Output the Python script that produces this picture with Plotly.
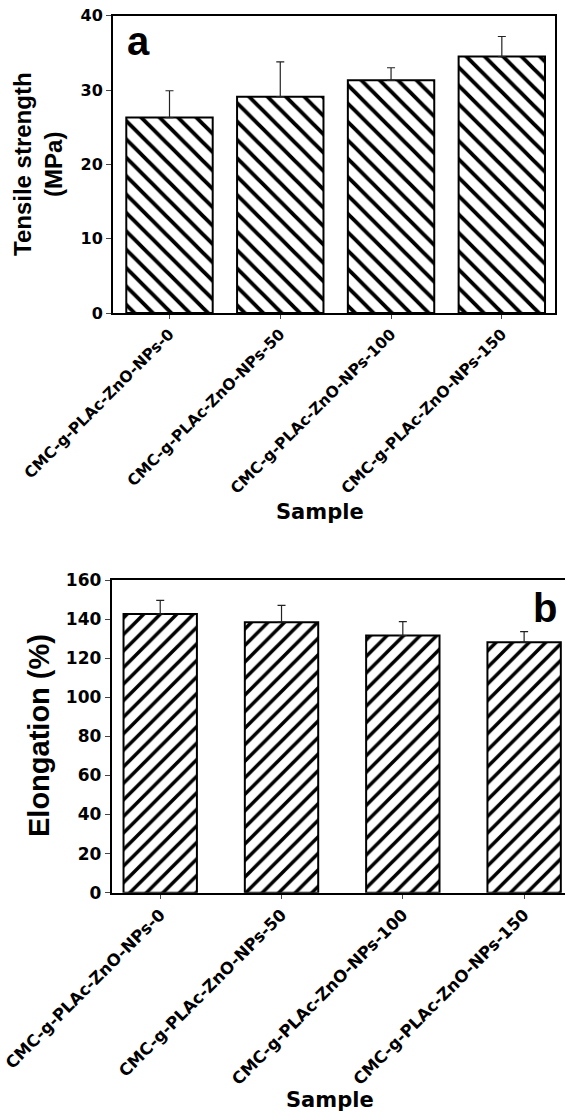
import plotly.graph_objects as go

samples = ["CMC-g-PLAc-ZnO-NPs-0", "CMC-g-PLAc-ZnO-NPs-50",
           "CMC-g-PLAc-ZnO-NPs-100", "CMC-g-PLAc-ZnO-NPs-150"]
tensile = [26.3, 29.1, 31.3, 34.5]
tensile_err = [3.6, 4.7, 1.7, 2.7]
elong = [142.6, 138.4, 131.6, 128.2]
elong_err = [7.0, 8.6, 7.1, 5.4]
ticks_a = [0, 10, 20, 30, 40]
ticks_b = [0, 20, 40, 60, 80, 100, 120, 140, 160]

W, H = 565, 1116
FONT = "Arial, Liberation Sans, sans-serif"
TFONT = "DejaVu Sans, Arial, sans-serif"

def px(v):
    return v / W

def py(v):
    return 1 - v / H

fig = go.Figure()
fig.add_trace(go.Bar(
    x=samples, y=tensile, width=0.78, xaxis="x", yaxis="y",
    marker=dict(color="white", line=dict(color="black", width=2),
                pattern=dict(shape="\\", size=13, solidity=0.3, fillmode="replace",
                             fgcolor="black", bgcolor="white", fgopacity=1)),
    error_y=dict(type="data", array=tensile_err, arrayminus=[0] * 4,
                 symmetric=False, color="#222222", thickness=1.2, width=4),
    showlegend=False))
fig.add_trace(go.Bar(
    x=samples, y=elong, width=0.605, xaxis="x2", yaxis="y2",
    marker=dict(color="white", line=dict(color="black", width=2),
                pattern=dict(shape="/", size=11.7, solidity=0.3, fillmode="replace",
                             fgcolor="black", bgcolor="white", fgopacity=1)),
    error_y=dict(type="data", array=elong_err, arrayminus=[0] * 4,
                 symmetric=False, color="#222222", thickness=1.2, width=4),
    showlegend=False))

def xax(size):
    return dict(showline=True, linecolor="black", linewidth=2, ticks="outside",
                ticklen=4, tickcolor="#444", tickwidth=1, tickangle=-45,
                tickfont=dict(family=TFONT, size=size, color="black", weight="bold"),
                showgrid=False, zeroline=False, automargin=False)

def yax(size):
    return dict(showline=True, linecolor="black", linewidth=2, ticks="outside",
                ticklen=5, tickcolor="#444", tickwidth=1,
                tickfont=dict(family=TFONT, size=size, color="black", weight="bold"),
                showgrid=False, zeroline=False, automargin=False)

fig.update_layout(
    template="none",
    width=W, height=H, plot_bgcolor="white", paper_bgcolor="white",
    margin=dict(l=0, r=0, t=0, b=0, pad=0),
    xaxis=dict(domain=[px(113), px(555)], range=[-0.51, 3.48], mirror=True,
               anchor="y", **xax(15.5)),
    yaxis=dict(domain=[py(313), py(15.7)], range=[0, 40], tickvals=ticks_a,
               mirror=True, anchor="x", **yax(16)),
    xaxis2=dict(domain=[px(111.7), 1.0], range=[-0.40, 3.337], mirror=True,
                anchor="y2", **xax(16.5)),
    yaxis2=dict(domain=[py(892.7), py(580)], range=[0, 160], tickvals=ticks_b,
                mirror=False, anchor="x2", **yax(17)),
    annotations=[
        dict(text="<b>Tensile strength<br>(MPa)</b>", x=px(38), y=py(164),
             xref="paper", yref="paper", textangle=-90, showarrow=False,
             font=dict(family=FONT, size=24, color="black"), xanchor="center",
             yanchor="middle"),
        dict(text="<b>Sample</b>", x=px(320), y=py(512), xref="paper", yref="paper",
             showarrow=False, font=dict(family=TFONT, size=21, color="black"),
             xanchor="center", yanchor="middle"),
        dict(text="<b>a</b>", x=px(138), y=py(41), xref="paper", yref="paper",
             showarrow=False, font=dict(family=FONT, size=40, color="black"),
             xanchor="center", yanchor="middle"),
        dict(text="<b>Elongation (%)</b>", x=px(39), y=py(736), xref="paper",
             yref="paper", textangle=-90, showarrow=False,
             font=dict(family=FONT, size=29, color="black"), xanchor="center",
             yanchor="middle"),
        dict(text="<b>Sample</b>", x=px(330), y=py(1100), xref="paper", yref="paper",
             showarrow=False, font=dict(family=TFONT, size=21, color="black"),
             xanchor="center", yanchor="middle"),
        dict(text="<b>b</b>", x=px(545), y=py(608), xref="paper", yref="paper",
             showarrow=False, font=dict(family=FONT, size=40, color="black"),
             xanchor="center", yanchor="middle"),
    ],
)

fig.write_html("out.html", config={"displayModeBar": False},
               post_script="document.body.style.margin='0';")
